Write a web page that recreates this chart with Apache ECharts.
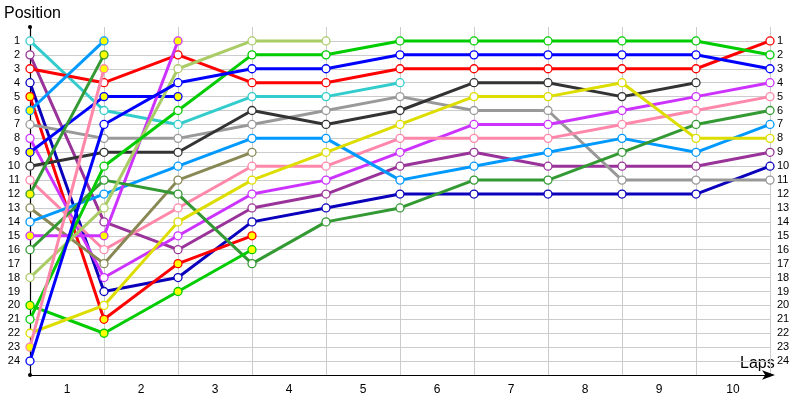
<!DOCTYPE html>
<html>
<head>
<meta charset="utf-8">
<script src="https://cdn.jsdelivr.net/npm/echarts@6/dist/echarts.min.js"></script>
<style>html,body{margin:0;padding:0;background:#fff}#c{width:800px;height:400px}</style>
</head>
<body>
<div id="c"></div>
<script>
// ---- data ----
const lapPoints = ['0','1','2','3','4','5','6','7','8','9','10'];
const lapLabels = ['1','2','3','4','5','6','7','8','9','10'];
const positionTicks = [1,2,3,4,5,6,7,8,9,10,11,12,13,14,15,16,17,18,19,20,21,22,23,24];

const cyanCar      = [1, 6, 7, 5, 5, 4, null, null, null, null, null];
const purpleCar    = [2, 14, 16, 13, 12, 10, 9, 10, 10, 10, 9];
const redCar       = [3, 4, 2, 4, 4, 3, 3, 3, 3, 3, 1];
const navyCar      = [4, 19, 18, 14, 13, 12, 12, 12, 12, 12, 10];
const redPitCar    = [5, 21, 17, 15, null, null, null, null, null, null, null];
const skyPitCar    = [6, 1, null, null, null, null, null, null, null, null, null];
const greyCar      = [7, 8, 8, 7, 6, 5, 6, 6, 11, 11, 11];
const violetCar    = [8, 18, 15, 12, 11, 9, 7, 7, 6, 5, 4];
const bluePitCar   = [9, 5, 5, null, null, null, null, null, null, null, null];
const darkCar      = [10, 9, 9, 6, 7, 6, 4, 4, 5, 4, null];
const pinkCar      = [11, 16, 13, 10, 10, 8, 8, 8, 7, 6, 5];
const forestPitCar = [12, 2, null, null, null, null, null, null, null, null, null];
const oliveCar     = [13, 17, 11, 9, null, null, null, null, null, null, null];
const skyCar       = [14, 12, 10, 8, 8, 11, 10, 9, 8, 9, 7];
const violetPitCar = [15, 15, 1, null, null, null, null, null, null, null, null];
const forestCar    = [16, 11, 12, 17, 14, 13, 11, 11, 9, 7, 6];
const limeCar      = [18, 13, 3, 1, 1, null, null, null, null, null, null];
const greenPitCar  = [20, 22, 19, 16, null, null, null, null, null, null, null];
const greenCar     = [21, 10, 6, 2, 2, 1, 1, 1, 1, 1, 2];
const yellowCar    = [22, 20, 14, 11, 9, 7, 5, 5, 4, 8, 8];
const pinkPitCar   = [23, 3, null, null, null, null, null, null, null, null, null];
const blueCar      = [24, 7, 4, 3, 3, 2, 2, 2, 2, 2, 3];

// ---- styles (kept apart from data) ----
const cars = [
  {data: cyanCar,      color: '#33cccc', pit: false},
  {data: purpleCar,    color: '#993399', pit: false},
  {data: redCar,       color: '#ff0000', pit: false},
  {data: navyCar,      color: '#0a00bb', pit: false},
  {data: redPitCar,    color: '#ff0000', pit: true},
  {data: skyPitCar,    color: '#0099ff', pit: true},
  {data: greyCar,      color: '#999999', pit: false},
  {data: violetCar,    color: '#cc33ff', pit: false},
  {data: bluePitCar,   color: '#0000ff', pit: true},
  {data: darkCar,      color: '#333333', pit: false},
  {data: pinkCar,      color: '#ff88aa', pit: false},
  {data: forestPitCar, color: '#339933', pit: true},
  {data: oliveCar,     color: '#888855', pit: false},
  {data: skyCar,       color: '#0099ff', pit: false},
  {data: violetPitCar, color: '#cc33ff', pit: true},
  {data: forestCar,    color: '#339933', pit: false},
  {data: limeCar,      color: '#aacc66', pit: false},
  {data: greenPitCar,  color: '#00cc00', pit: true},
  {data: greenCar,     color: '#00cc00', pit: false},
  {data: yellowCar,    color: '#dddd00', pit: false},
  {data: pinkPitCar,   color: '#ff88aa', pit: true},
  {data: blueCar,      color: '#0000ff', pit: false}
];

const FONT = 'Liberation Sans';
const chart = echarts.init(document.getElementById('c'), null, {renderer: 'canvas'});

const option = {
  animation: false,
  backgroundColor: '#ffffff',
  grid: {left: 30, right: 30, top: 27, bottom: 25, containLabel: false},
  xAxis: [
    {
      type: 'category', data: lapPoints, boundaryGap: false, position: 'bottom',
      axisLine: {show: true, onZero: false, lineStyle: {color: '#000', width: 1.2},
                 symbol: ['none', 'arrow'], symbolSize: [7, 13], symbolOffset: [0, 5]},
      axisTick: {show: false},
      axisLabel: {show: false},
      splitLine: {show: true, interval: 0, lineStyle: {color: '#cccccc', width: 1}}
    },
    {
      type: 'category', data: lapLabels, boundaryGap: true, position: 'bottom',
      axisLine: {show: false, onZero: false}, axisTick: {show: false}, splitLine: {show: false},
      axisLabel: {show: true, interval: 0, margin: 9, color: '#000', fontFamily: FONT, fontSize: 12}
    }
  ],
  yAxis: [
    {
      type: 'value', inverse: true, min: 0, max: 25, interval: 1, position: 'left',
      axisLine: {show: true, onZero: false, lineStyle: {color: '#000', width: 1.2},
                 symbol: ['circle', 'circle'], symbolSize: [4, 4]},
      axisTick: {show: false},
      axisLabel: {show: true, margin: 10, color: '#000', fontFamily: FONT, fontSize: 11,
                  formatter: v => positionTicks.indexOf(v) >= 0 ? String(v) : ''},
      splitLine: {show: true, showMinLine: false, showMaxLine: false,
                  lineStyle: {color: '#cccccc', width: 1}}
    },
    {
      type: 'value', inverse: true, min: 0, max: 25, interval: 1, position: 'right',
      axisLine: {show: false, onZero: false}, axisTick: {show: false}, splitLine: {show: false},
      axisLabel: {show: true, margin: 7, color: '#000', fontFamily: FONT, fontSize: 11,
                  formatter: v => positionTicks.indexOf(v) >= 0 ? String(v) : ''}
    }
  ],
  graphic: [
    {type: 'text', left: 4, top: 6, style: {text: 'Position', fontFamily: FONT, fontSize: 16, fill: '#000'}},
    {type: 'text', left: 740, top: 356, style: {text: 'Laps', fontFamily: FONT, fontSize: 16, fill: '#000'}}
  ],
  series: cars.map((c, i) => ({
    type: 'line',
    name: 'car' + (i + 1),
    xAxisIndex: 0, yAxisIndex: 0,
    data: c.data,
    connectNulls: false,
    symbol: 'circle',
    symbolSize: 8,
    showSymbol: true,
    lineStyle: {color: c.color, width: 3},
    itemStyle: {color: c.pit ? '#ffff00' : '#ffffff', borderColor: c.color, borderWidth: 1.3},
    emphasis: {disabled: true},
    z: 2 + i * 0.01
  }))
};
chart.setOption(option);
</script>
</body>
</html>
